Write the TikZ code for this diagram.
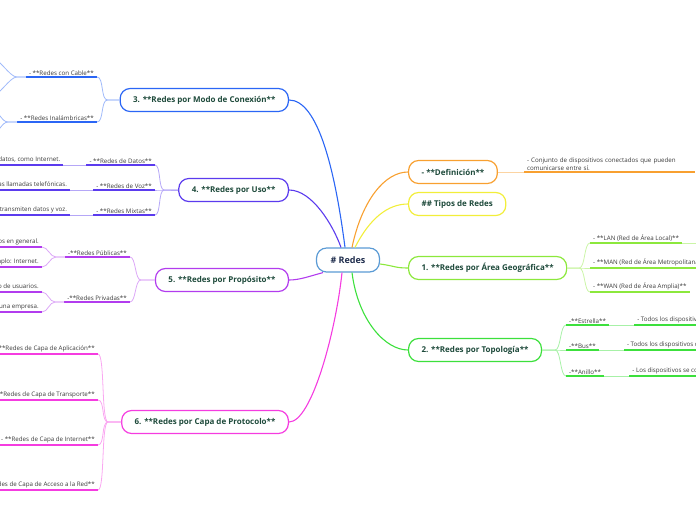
\documentclass[tikz,border=0pt]{standalone}
\usepackage{fontspec}
\setmainfont{Open Sans}
\usetikzlibrary{backgrounds}

\definecolor{croot}{HTML}{5B9BD5}
\definecolor{corange}{HTML}{F8A030}
\definecolor{cyellow}{HTML}{F2EE3A}
\definecolor{clime}{HTML}{8CE83C}
\definecolor{cgreen}{HTML}{3CE03C}
\definecolor{cblue}{HTML}{2B66F5}
\definecolor{cindigo}{HTML}{5B3BEE}
\definecolor{cviolet}{HTML}{B23CEE}
\definecolor{cmagenta}{HTML}{F53CE0}
\definecolor{nodetext}{HTML}{1E4A3B}
\definecolor{roottext}{HTML}{1F2D4D}
\definecolor{leaftext}{HTML}{3A3A3A}

\begin{document}
\begin{tikzpicture}[x=1pt,y=-1pt,
	pill/.style={draw=#1,fill=white,line width=1.2pt,rounded corners=10pt,
		minimum height=23pt,inner xsep=13pt,text=nodetext,
		font=\bfseries\fontsize{8}{9.5}\selectfont},
	leaf/.style={inner xsep=3pt,inner ysep=1.6pt,text=leaftext,
		font=\fontsize{6.2}{8}\selectfont},
	ul/.style={draw=#1,line width=1.4pt},
	br/.style={draw=#1!45,line width=0.8pt},
	trunk/.style={draw=#1,line width=1.1pt}]
\useasboundingbox (0,0) rectangle (696,520);

\node[pill=croot,text=roottext,inner xsep=14pt,minimum height=24pt,
	font=\bfseries\fontsize{9}{11}\selectfont] (R) at (348,260) {\# Redes};

\node[pill=corange,anchor=west] (Def) at (408,172) {- **Definición**};
\node[pill=cyellow,anchor=west] (Tip) at (408,204) {\#\# Tipos de Redes};
\node[pill=clime,anchor=west] (G1) at (408,268) {1. **Redes por Área Geográfica**};
\node[pill=cgreen,anchor=west] (G2) at (408,350) {2. **Redes por Topología**};
\node[pill=cblue,anchor=east] (G3) at (289,100) {3. **Redes por Modo de Conexión**};
\node[pill=cindigo,anchor=east] (G4) at (289,190) {4. **Redes por Uso**};
\node[pill=cviolet,anchor=east] (G5) at (289,280) {5. **Redes por Propósito**};
\node[pill=cmagenta,anchor=east] (G6) at (289,422) {6. **Redes por Capa de Protocolo**};

\draw[trunk=cblue] ([xshift=-3pt]R.north) .. controls (335,170) and (318,100) .. (G3.east);
\draw[trunk=cindigo] ([xshift=-7pt]R.north) .. controls (333,225) and (312,190) .. (G4.east);
\draw[trunk=corange] ([xshift=4pt]R.north) .. controls (362,200) and (385,172) .. (Def.west);
\draw[trunk=cyellow] ([xshift=7pt]R.north) .. controls (370,218) and (388,204) .. (Tip.west);
\draw[trunk=clime] ([yshift=-4pt]R.east) .. controls (395,266) and (395,268) .. (G1.west);
\draw[trunk=cgreen] ([xshift=4pt]R.south) .. controls (358,320) and (385,350) .. (G2.west);
\draw[trunk=cmagenta] ([xshift=-6pt]R.south) .. controls (336,330) and (312,422) .. (G6.east);
\draw[trunk=cviolet] ([xshift=-25pt]R.south) .. controls (310,276) and (300,280) .. (G5.east);

% Definicion
\node[leaf,anchor=south west,align=left,text width=165pt] (DfT) at ([xshift=26pt]Def.east)
	{- Conjunto de dispositivos conectados que pueden\\comunicarse entre sí.};
\draw[br=corange] (Def.east) -- (DfT.south west);
\draw[ul=corange] (DfT.south west) -- (DfT.south east);

% 1. area geografica
\node[leaf,anchor=south west] (G1a) at (590,243) {- **LAN (Red de Área Local)**};
\node[leaf,anchor=south west] (G1b) at (590,268) {- **MAN (Red de Área Metropolitana)**};
\node[leaf,anchor=south west] (G1c) at (590,292) {- **WAN (Red de Área Amplia)**};
\draw[br=clime] (G1.east) -- ++(12,0) .. controls +(6,0) and +(-6,0) .. (G1a.south west);
\draw[br=clime] (G1.east) -- ++(12,0) .. controls +(6,0) and +(-6,0) .. (G1b.south west);
\draw[br=clime] (G1.east) -- ++(12,0) .. controls +(6,0) and +(-6,0) .. (G1c.south west);
\draw[ul=clime] (G1a.south west) -- (G1a.south east);
\draw[ul=clime] (G1b.south west) -- (G1b.south east);
\draw[ul=clime] (G1c.south west) -- (G1c.south east);
\draw[br=clime] (G1a.south east) -- ++(20,0);

% 2. topologia
\node[leaf,anchor=south west] (G2a) at (566,325) {-**Estrella**};
\node[leaf,anchor=south west] (G2b) at (566,350) {-**Bus**};
\node[leaf,anchor=south west] (G2c) at (566,376) {-**Anillo**};
\node[leaf,anchor=south west] (D2a) at ([xshift=25pt]G2a.south east)
	{- Todos los dispositivos se conectan a un nodo central.};
\node[leaf,anchor=south west] (D2b) at ([xshift=25pt]G2b.south east)
	{- Todos los dispositivos comparten un mismo canal.};
\node[leaf,anchor=south west] (D2c) at ([xshift=25pt]G2c.south east)
	{- Los dispositivos se conectan formando un anillo.};
\draw[br=cgreen] (G2.east) -- ++(13,0) .. controls +(6,0) and +(-6,0) .. (G2a.south west);
\draw[br=cgreen] (G2.east) -- ++(13,0) .. controls +(6,0) and +(-6,0) .. (G2b.south west);
\draw[br=cgreen] (G2.east) -- ++(13,0) .. controls +(6,0) and +(-6,0) .. (G2c.south west);
\draw[ul=cgreen] (G2a.south west) -- (G2a.south east);
\draw[ul=cgreen] (G2b.south west) -- (G2b.south east);
\draw[ul=cgreen] (G2c.south west) -- (G2c.south east);
\draw[br=cgreen] (G2a.south east) -- (D2a.south west);
\draw[br=cgreen] (G2b.south east) -- (D2b.south west);
\draw[br=cgreen] (G2c.south east) -- (D2c.south west);
\draw[ul=cgreen] (D2a.south west) -- (D2a.south east);
\draw[ul=cgreen] (D2b.south west) -- (D2b.south east);
\draw[ul=cgreen] (D2c.south west) -- (D2c.south east);

% 3. modo de conexion
\node[leaf,anchor=south east] (G3a) at (97,77) {- **Redes con Cable**};
\node[leaf,anchor=south east] (G3b) at (97,122) {- **Redes Inalámbricas**};
\coordinate (X3a) at (-8,58);
\coordinate (X3b) at (-8,96);
\coordinate (X3c) at (-8,110);
\coordinate (X3d) at (-8,134);
\draw[br=cblue] (G3.west) -- ++(-12,0) .. controls +(-7,0) and +(7,0) .. (G3a.south east);
\draw[br=cblue] (G3.west) -- ++(-12,0) .. controls +(-7,0) and +(7,0) .. (G3b.south east);
\draw[ul=cblue] (G3a.south west) -- (G3a.south east);
\draw[ul=cblue] (G3b.south west) -- (G3b.south east);
\draw[br=cblue] (G3a.south west) -- ++(-9,0) .. controls +(-7,0) and +(7,0) .. (X3a);
\draw[br=cblue] (G3a.south west) -- ++(-9,0) .. controls +(-7,0) and +(7,0) .. (X3b);
\draw[br=cblue] (G3b.south west) -- ++(-9,0) .. controls +(-7,0) and +(7,0) .. (X3c);
\draw[br=cblue] (G3b.south west) -- ++(-9,0) .. controls +(-7,0) and +(7,0) .. (X3d);

% 4. uso
\node[leaf,anchor=south east] (G4a) at (155,165) {- **Redes de Datos**};
\node[leaf,anchor=south east] (G4b) at (155,190) {- **Redes de Voz**};
\node[leaf,anchor=south east] (G4c) at (155,215) {- **Redes Mixtas**};
\node[leaf,anchor=south east] (D4a) at ([xshift=-23pt]G4a.south west)
	{- Se utilizan para transmitir datos, como Internet.};
\node[leaf,anchor=south east] (D4b) at ([xshift=-23pt]G4b.south west)
	{- Se utilizan para las llamadas telefónicas.};
\node[leaf,anchor=south east] (D4c) at ([xshift=-23pt]G4c.south west)
	{- Redes que transmiten datos y voz.};
\draw[br=cindigo] (G4.west) -- ++(-14,0) .. controls +(-6,0) and +(6,0) .. (G4a.south east);
\draw[br=cindigo] (G4.west) -- ++(-14,0) .. controls +(-6,0) and +(6,0) .. (G4b.south east);
\draw[br=cindigo] (G4.west) -- ++(-14,0) .. controls +(-6,0) and +(6,0) .. (G4c.south east);
\draw[ul=cindigo] (G4a.south west) -- (G4a.south east);
\draw[ul=cindigo] (G4b.south west) -- (G4b.south east);
\draw[ul=cindigo] (G4c.south west) -- (G4c.south east);
\draw[br=cindigo] (G4a.south west) -- (D4a.south east);
\draw[br=cindigo] (G4b.south west) -- (D4b.south east);
\draw[br=cindigo] (G4c.south west) -- (D4c.south east);
\draw[ul=cindigo] (D4a.south west) -- (D4a.south east);
\draw[ul=cindigo] (D4b.south west) -- (D4b.south east);
\draw[ul=cindigo] (D4c.south west) -- (D4c.south east);

% 5. proposito
\node[leaf,anchor=south east] (G5a) at (130,257) {-**Redes Públicas**};
\node[leaf,anchor=south east] (G5b) at (130,302) {-**Redes Privadas**};
\node[leaf,anchor=south east] (D5a) at (42,247) {- Abiertas a los usuarios en general.};
\node[leaf,anchor=south east] (D5b) at (42,267) {- Ejemplo: Internet.};
\node[leaf,anchor=south east] (D5c) at (42,292) {- Restringidas a un grupo de usuarios.};
\node[leaf,anchor=south east] (D5d) at (42,312) {- Ejemplo: la red de una empresa.};
\draw[br=cviolet] (G5.west) -- ++(-14,0) .. controls +(-6,0) and +(6,0) .. (G5a.south east);
\draw[br=cviolet] (G5.west) -- ++(-14,0) .. controls +(-6,0) and +(6,0) .. (G5b.south east);
\draw[ul=cviolet] (G5a.south west) -- (G5a.south east);
\draw[ul=cviolet] (G5b.south west) -- (G5b.south east);
\draw[br=cviolet] (G5a.south west) -- ++(-9,0) .. controls +(-6,0) and +(6,0) .. (D5a.south east);
\draw[br=cviolet] (G5a.south west) -- ++(-9,0) .. controls +(-6,0) and +(6,0) .. (D5b.south east);
\draw[br=cviolet] (G5b.south west) -- ++(-9,0) .. controls +(-6,0) and +(6,0) .. (D5c.south east);
\draw[br=cviolet] (G5b.south west) -- ++(-9,0) .. controls +(-6,0) and +(6,0) .. (D5d.south east);
\draw[ul=cviolet] (D5a.south west) -- (D5a.south east);
\draw[ul=cviolet] (D5b.south west) -- (D5b.south east);
\draw[ul=cviolet] (D5c.south west) -- (D5c.south east);
\draw[ul=cviolet] (D5d.south west) -- (D5d.south east);

% 6. capa de protocolo
\node[leaf,anchor=south east] (G6a) at (98,354) {- **Redes de Capa de Aplicación**};
\node[leaf,anchor=south east] (G6b) at (98,400) {- **Redes de Capa de Transporte**};
\node[leaf,anchor=south east] (G6c) at (98,445) {- **Redes de Capa de Internet**};
\node[leaf,anchor=south east] (G6d) at (98,490) {- **Redes de Capa de Acceso a la Red**};
\draw[br=cmagenta] (G6.west) -- ++(-13,0) .. controls +(-7,0) and +(7,0) .. (G6a.south east);
\draw[br=cmagenta] (G6.west) -- ++(-13,0) .. controls +(-7,0) and +(7,0) .. (G6b.south east);
\draw[br=cmagenta] (G6.west) -- ++(-13,0) .. controls +(-7,0) and +(7,0) .. (G6c.south east);
\draw[br=cmagenta] (G6.west) -- ++(-13,0) .. controls +(-7,0) and +(7,0) .. (G6d.south east);
\draw[ul=cmagenta] (G6a.south west) -- (G6a.south east);
\draw[ul=cmagenta] (G6b.south west) -- (G6b.south east);
\draw[ul=cmagenta] (G6c.south west) -- (G6c.south east);
\draw[ul=cmagenta] (G6d.south west) -- (G6d.south east);

\end{tikzpicture}
\end{document}
